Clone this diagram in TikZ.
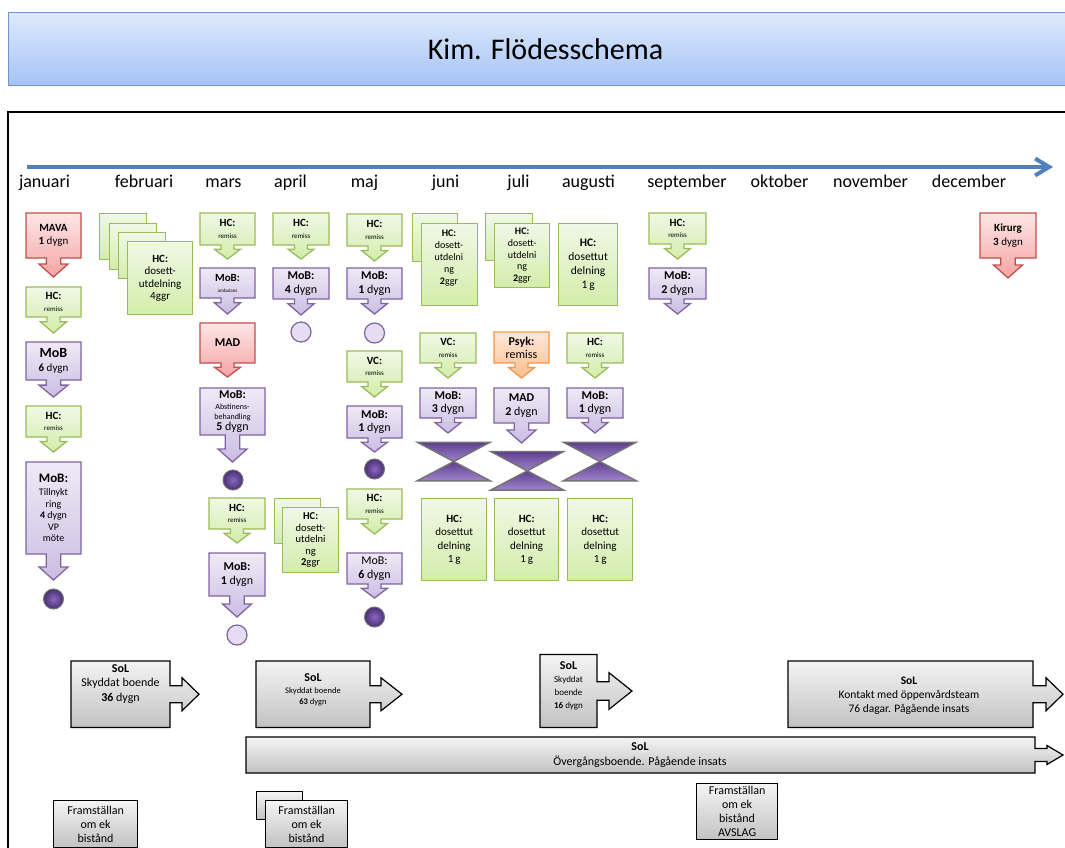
\documentclass[tikz,border=0pt]{standalone}
\usepackage{fontspec}
\setmainfont{Carlito}
\usetikzlibrary{arrows.meta}

\definecolor{grnD}{HTML}{9BBB59}
\definecolor{grnT}{HTML}{F0F8E6}
\definecolor{grnB}{HTML}{D2EDAA}
\definecolor{purD}{HTML}{8064A2}
\definecolor{purT}{HTML}{EFEAF6}
\definecolor{purB}{HTML}{CBBDE3}
\definecolor{redD}{HTML}{C0504D}
\definecolor{redT}{HTML}{FDE6E6}
\definecolor{redB}{HTML}{F5A3A3}
\definecolor{orgD}{HTML}{F79646}
\definecolor{orgT}{HTML}{FDE8DA}
\definecolor{orgB}{HTML}{FBBE8C}
\definecolor{gryT}{HTML}{F4F4F4}
\definecolor{gryB}{HTML}{C2C2C2}
\definecolor{ttlT}{HTML}{DEEAFC}
\definecolor{ttlB}{HTML}{A5C3F5}
\definecolor{ttlD}{HTML}{6F93CB}
\definecolor{lineblue}{HTML}{4F81BD}
\definecolor{hgT}{HTML}{5E3F8E}
\definecolor{hgB}{HTML}{A084CB}
\definecolor{dotIn}{HTML}{8A68C0}
\definecolor{dotOut}{HTML}{4A2F74}
\definecolor{dotL}{HTML}{E6DDF2}

\newcommand{\fz}[2]{\fontsize{#1}{#2}\selectfont}

\tikzset{
  grnbox/.style={draw=grnD, line width=1.3pt, line join=miter, top color=grnT, bottom color=grnB},
  purbox/.style={draw=purD, line width=1.3pt, line join=miter, top color=purT, bottom color=purB},
  redbox/.style={draw=redD, line width=1.3pt, line join=miter, top color=redT, bottom color=redB},
  orgbox/.style={draw=orgD, line width=1.3pt, line join=miter, top color=orgT, bottom color=orgB},
  grybox/.style={draw=black, line width=1.2pt, line join=miter, top color=gryT, bottom color=gryB},
  grnrect/.style={grnbox, rectangle, inner sep=0pt, align=center},
  gryrect/.style={grybox, rectangle, inner sep=0pt, align=center},
  boxtext/.style={align=center, inner sep=0pt, text=black, font=\fz{11}{13}},
  month/.style={anchor=base, inner sep=0pt, font=\fz{18}{20}},
  dotdark/.style={circle, minimum size=20pt, inner sep=0pt, draw={black!55}, line width=1pt, inner color=dotIn, outer color=dotOut},
  dotlight/.style={circle, minimum size=20pt, inner sep=0pt, draw=purD, line width=1.2pt, fill=dotL},
  hgtri/.style={draw={black!55}, line width=1.4pt, line join=miter, top color=hgT, bottom color=hgB},
  timeline/.style={draw=lineblue, line width=4pt, -{Straight Barb[length=14pt,width=17pt,line width=4pt]}},
  titlebox/.style={rectangle, draw=ttlD, line width=1pt, top color=ttlT, bottom color=ttlB, inner sep=0pt, font=\fz{30}{36}},
}

% box with a downward arrow below it:
% name, style, centre x, top y, width, height, arrow length, node options, text
\newcommand{\downbox}[9]{%
  \pgfmathsetmacro\dbXl{#3-#5/2}%
  \pgfmathsetmacro\dbXr{#3+#5/2}%
  \pgfmathsetmacro\dbYb{#4+#6}%
  \pgfmathsetmacro\dbHl{min(13,0.7*#7)}%
  \pgfmathsetmacro\dbYh{\dbYb+#7-\dbHl}%
  \pgfmathsetmacro\dbYt{\dbYb+#7}%
  \pgfmathsetmacro\dbHw{#7<=16 ? 13 : 14.5}%
  \pgfmathsetmacro\dbSl{#3-\dbHw/2}%
  \pgfmathsetmacro\dbSr{#3+\dbHw/2}%
  \pgfmathsetmacro\dbHlx{#3-\dbHw}%
  \pgfmathsetmacro\dbHrx{#3+\dbHw}%
  \pgfmathsetmacro\dbYc{#4+#6/2}%
  \path[#2] (\dbXl,#4) -- (\dbXr,#4) -- (\dbXr,\dbYb) -- (\dbSr,\dbYb) -- (\dbSr,\dbYh)
     -- (\dbHrx,\dbYh) -- (#3,\dbYt) -- (\dbHlx,\dbYh) -- (\dbSl,\dbYh) -- (\dbSl,\dbYb)
     -- (\dbXl,\dbYb) -- cycle;
  \node[boxtext,#8] (#1) at (#3,\dbYc) {#9};
}

% box with a rightward arrow:
% style, left, top, right, bottom, shaft end x, tip x, shaft half height, head half height
\newcommand{\rightbox}[9]{%
  \pgfmathsetmacro\rbC{(#3+#5)/2}%
  \pgfmathsetmacro\rbSa{\rbC-#8}\pgfmathsetmacro\rbSb{\rbC+#8}%
  \pgfmathsetmacro\rbHa{\rbC-#9}\pgfmathsetmacro\rbHb{\rbC+#9}%
  \path[#1] (#2,#3) -- (#4,#3) -- (#4,\rbSa) -- (#6,\rbSa) -- (#6,\rbHa) -- (#7,\rbC)
     -- (#6,\rbHb) -- (#6,\rbSb) -- (#4,\rbSb) -- (#4,#5) -- (#2,#5) -- cycle;
}

% two purple triangles meeting at their tips
\newcommand{\hourglass}[3]{%
  \coordinate (#1) at (#2,#3);
  \pgfmathsetmacro\hgL{#2-36.5}\pgfmathsetmacro\hgR{#2+36.5}%
  \pgfmathsetmacro\hgTp{#3-19.3}\pgfmathsetmacro\hgBt{#3+19.3}%
  \path[hgtri] (\hgL,\hgTp) -- (\hgR,\hgTp) -- (#1) -- cycle;
  \path[hgtri] (\hgL,\hgBt) -- (\hgR,\hgBt) -- (#1) -- cycle;
}

\newcommand{\remiss}[1]{\textbf{#1}\\{\fz{7}{8}remiss}}

\begin{document}
\begin{tikzpicture}[x=1pt, y=-1pt]
\useasboundingbox (0,0) rectangle (1065,848);
\fill[white] (0,0) rectangle (1065,848);
\clip (0,0) rectangle (1065,848);

% title bar
\node[titlebox, anchor=north west, minimum width=1074pt, minimum height=73pt] (title) at (8,12) {Kim. Flödesschema};

% frame around the chart
\draw[line width=1.6pt] (8,112) rectangle (1090,880);

% time axis
\coordinate (tlA) at (27,167);
\coordinate (tlB) at (1053,167);
\draw[timeline] (tlA) -- (tlB);

\node[month] (mjan) at (44.5,187) {januari};
\node[month] (mfeb) at (144,187) {februari};
\node[month] (mmar) at (223.5,187) {mars};
\node[month] (mapr) at (290.5,187) {april};
\node[month] (mmaj) at (364.5,187) {maj};
\node[month] (mjun) at (445.5,187) {juni};
\node[month] (mjul) at (518.5,187) {juli};
\node[month] (maug) at (588.5,187) {augusti};
\node[month] (msep) at (687,187) {september};
\node[month] (mokt) at (779.5,187) {oktober};
\node[month] (mnov) at (870.5,187) {november};
\node[month] (mdec) at (969,187) {december};

% ---------- januari
\downbox{mava}{redbox}{53.5}{213}{55}{45}{19}{font=\fz{11}{13.5}}{\textbf{MAVA}\\\textbf{1} dygn}
\downbox{jhca}{grnbox}{53.5}{287}{55}{30}{16}{font=\fz{11}{11.5}}{\remiss{HC:}}
\downbox{jmoba}{purbox}{53.5}{342}{55}{38}{17}{font=\fz{11}{14}}{{\fz{14}{14}\textbf{MoB}}\\\textbf{6} dygn}
\downbox{jhcb}{grnbox}{53.5}{406}{55}{31}{15}{font=\fz{11}{11.5}}{\remiss{HC:}}
\downbox{jmobb}{purbox}{53.5}{462}{55}{92}{26}{font=\fz{10}{11.5}}{{\fz{13}{13}\textbf{MoB:}}\\[2pt]Tillnykt\\ring\\\textbf{4} dygn\\VP\\möte}
\node[dotdark] (jdot) at (53.5,599) {};

% ---------- februari
\node[grnrect, minimum width=47pt, minimum height=46pt, anchor=north west] (fsa) at (99,213) {};
\node[grnrect, minimum width=47pt, minimum height=46pt, anchor=north west] (fsb) at (108.5,222.5) {};
\node[grnrect, minimum width=47pt, minimum height=46pt, anchor=north west] (fsc) at (118,232) {};
\node[grnrect, minimum width=65pt, minimum height=73pt, anchor=north west, font=\fz{11}{12.5}] (fdos) at (127,241) {\textbf{HC:}\\dosett-\\utdelning\\4ggr};

% ---------- mars
\downbox{mhca}{grnbox}{227.5}{213}{55}{32}{14}{font=\fz{11}{11.5}}{\remiss{HC:}}
\downbox{mmoba}{purbox}{227.5}{268}{55}{30}{16}{font=\fz{11}{11}}{\textbf{MoB:}\\{\fz{5}{6}ambulans}}
\downbox{mmad}{redbox}{227.5}{323}{55}{40}{14}{font=\fz{12}{13}}{\textbf{MAD}}
\downbox{mmobb}{purbox}{232.5}{388}{65}{47}{27}{font=\fz{8}{10}}{{\fz{12}{12}\textbf{MoB:}}\\[1pt]Abstinens-\\behandling\\[1pt]{\fz{12}{12}\textbf{5} dygn}}
\node[dotdark] (mdota) at (233,480) {};
\downbox{mhcb}{grnbox}{237}{498}{56}{31}{14}{font=\fz{11}{11.5}}{\remiss{HC:}}
\downbox{mmobc}{purbox}{237}{553}{56}{43}{21}{font=\fz{12}{14}}{\textbf{MoB:}\\\textbf{1} dygn}
\node[dotlight] (mdotb) at (237,635) {};

% ---------- april
\downbox{ahc}{grnbox}{301}{213}{56}{32}{14}{font=\fz{11}{11.5}}{\remiss{HC:}}
\downbox{amob}{purbox}{301}{268}{56}{31}{16}{font=\fz{12}{13.5}}{\textbf{MoB:}\\\textbf{4} dygn}
\node[dotlight] (adot) at (301,332) {};
\node[grnrect, minimum width=46pt, minimum height=45pt, anchor=north west] (asa) at (274,498) {};
\node[grnrect, minimum width=56pt, minimum height=65pt, anchor=north west, font=\fz{10.5}{11.5}] (ados) at (282,507) {\textbf{HC:}\\dosett-\\utdelni\\ng\\\textbf{2}ggr};

% ---------- maj
\downbox{yhca}{grnbox}{374.5}{214}{55}{32}{15}{font=\fz{11}{11.5}}{\remiss{HC:}}
\downbox{ymoba}{purbox}{374.5}{268}{55}{31}{15}{font=\fz{12}{13.5}}{\textbf{MoB:}\\\textbf{1} dygn}
\node[dotlight] (ydota) at (374.5,333) {};
\downbox{yvc}{grnbox}{374.5}{351}{55}{31}{15}{font=\fz{11}{11.5}}{\remiss{VC:}}
\downbox{ymobb}{purbox}{374.5}{406}{55}{32}{14}{font=\fz{12}{13.5}}{\textbf{MoB:}\\\textbf{1} dygn}
\node[dotdark] (ydotb) at (374.5,469) {};
\downbox{yhcb}{grnbox}{374.5}{489}{55}{30}{15}{font=\fz{11}{11.5}}{\remiss{HC:}}
\downbox{ymobc}{purbox}{374.5}{553}{55}{31}{14}{font=\fz{12}{13.5}}{MoB:\\\textbf{6} dygn}
\node[dotdark] (ydotc) at (374.5,617) {};

% ---------- juni
\node[grnrect, minimum width=45pt, minimum height=48pt, anchor=north west] (usa) at (412,213) {};
\node[grnrect, minimum width=56pt, minimum height=82pt, anchor=north west] (udosa) at (421,223) {};
\node[boxtext, font=\fz{10}{11.8}] (udosat) at (449,258) {\textbf{HC:}\\dosett-\\utdelni\\ng\\\textbf{2}ggr};
\downbox{uvc}{grnbox}{448}{333}{56}{30}{15}{font=\fz{11}{11.5}}{\remiss{VC:}}
\downbox{umob}{purbox}{448}{388}{56}{30}{15}{font=\fz{12}{13.3}}{\textbf{MoB:}\\\textbf{3} dygn}
\hourglass{uhg}{453.7}{461.5}
\node[grnrect, minimum width=65pt, minimum height=82pt, anchor=north west, font=\fz{11}{13.5}] (udosb) at (421,498) {\textbf{HC:}\\dosettut\\delning\\1\,g};

% ---------- juli
\node[grnrect, minimum width=47pt, minimum height=47pt, anchor=north west] (lsa) at (485,213) {};
\node[grnrect, minimum width=55pt, minimum height=64pt, anchor=north west, font=\fz{10}{11.6}] (ldosa) at (494,223) {\textbf{HC:}\\dosett-\\utdelni\\ng\\\textbf{2}ggr};
\downbox{lpsyk}{orgbox}{521.5}{332}{55}{31}{15}{font=\fz{12}{13.3}}{\textbf{Psyk:}\\remiss}
\downbox{lmad}{purbox}{521.5}{388}{55}{35}{20}{font=\fz{12}{13.3}}{\textbf{MAD}\\\textbf{2} dygn}
\hourglass{lhg}{527.2}{470.8}
\node[grnrect, minimum width=64pt, minimum height=82pt, anchor=north west, font=\fz{11}{13.5}] (ldosb) at (494,498) {\textbf{HC:}\\dosettut\\delning\\1\,g};

% ---------- augusti
\node[grnrect, minimum width=59pt, minimum height=82pt, anchor=north west, font=\fz{11.5}{14}] (gdosa) at (558,223) {\textbf{HC:}\\dosettut\\delning\\1\,g};
\downbox{ghc}{grnbox}{595}{333}{56}{30}{15}{font=\fz{11}{11.5}}{\remiss{HC:}}
\downbox{gmob}{purbox}{595}{388}{56}{30}{15}{font=\fz{12}{13.3}}{\textbf{MoB:}\\\textbf{1} dygn}
\hourglass{ghg}{599.8}{461.5}
\node[grnrect, minimum width=65pt, minimum height=82pt, anchor=north west, font=\fz{11}{13.5}] (gdosb) at (567,498) {\textbf{HC:}\\dosettut\\delning\\1\,g};

% ---------- september
\downbox{shc}{grnbox}{677.5}{213}{57}{31}{15}{font=\fz{11}{11.5}}{\remiss{HC:}}
\downbox{smob}{purbox}{677.5}{268}{57}{31}{15}{font=\fz{12}{13.5}}{\textbf{MoB:}\\\textbf{2} dygn}

% ---------- december
\downbox{kir}{redbox}{1008}{213}{56}{45}{20}{font=\fz{11}{13.5}}{\textbf{Kirurg}\\\textbf{3} dygn}

% ---------- SoL
\rightbox{grybox}{71}{661}{170}{727.5}{182}{199}{8.5}{16.5}
\node[boxtext, font=\fz{12}{14.5}] (sola) at (120.5,684) {\textbf{SoL}\\Skyddat boende\\\textbf{36} dygn};

\rightbox{grybox}{256}{661}{370}{727.5}{381}{402}{8.5}{16.5}
\node[boxtext, font=\fz{8.5}{11}] (solb) at (313,690) {{\fz{12}{12}\textbf{SoL}}\\[1pt]Skyddat boende\\\textbf{63} dygn};

\rightbox{grybox}{540}{654.5}{597}{727.5}{609}{632}{9.2}{18.3}
\node[boxtext, font=\fz{9}{13}] (solc) at (568.5,686) {{\fz{12}{12}\textbf{SoL}}\\Skyddat\\boende\\\textbf{16} dygn};

\rightbox{grybox}{788}{661}{1033}{727.5}{1046}{1063}{8.5}{16.5}
\node[boxtext, font=\fz{11.5}{14}] (sold) at (909,696) {\textbf{SoL}\\Kontakt med öppenvårdsteam\\76 dagar. Pågående insats};

\rightbox{grybox}{246}{737}{1035}{773}{1047}{1063}{6.5}{9.5}
\node[boxtext, font=\fz{12}{14.5}] (sole) at (640,755) {\textbf{SoL}\\Övergångsboende. Pågående insats};

% ---------- framställan
\node[gryrect, minimum width=84pt, minimum height=47pt, anchor=north west, font=\fz{12}{14}] (fra) at (53,800) {Framställan\\om ek\\bistånd};
\node[gryrect, minimum width=46pt, minimum height=28pt, anchor=north west] (frbb) at (256,791) {};
\node[gryrect, minimum width=82pt, minimum height=47pt, anchor=north west, font=\fz{12}{14}] (frb) at (265,800) {Framställan\\om ek\\bistånd};
\node[gryrect, minimum width=81pt, minimum height=56pt, anchor=north west, font=\fz{12}{14}] (frc) at (696,783) {Framställan\\om ek\\bistånd\\AVSLAG};

\end{tikzpicture}
\end{document}
